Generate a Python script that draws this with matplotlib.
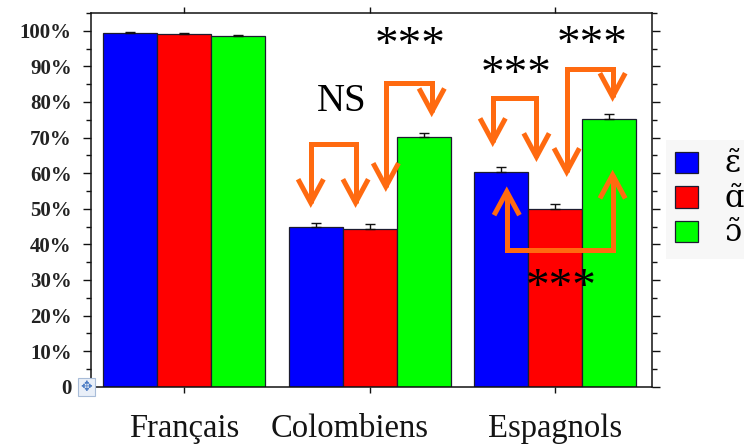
import matplotlib
matplotlib.use("Agg")
import matplotlib.pyplot as plt
import numpy as np
from matplotlib.patches import Patch, Rectangle
from matplotlib.ticker import FixedLocator, FuncFormatter
import matplotlib.transforms as mtransforms

plt.rcParams["mathtext.fontset"] = "dejavuserif"

# ---- data -------------------------------------------------------------
groups = ["Français", "Colombiens", "Espagnols"]
vowels = [r"$\tilde{\mathrm{ɛ}}$", r"$\tilde{\mathrm{ɑ}}$", r"$\tilde{\mathrm{ɔ}}$"]
vowel_colors = ["#0000ff", "#ff0000", "#00ff00"]

eps_vals = [0.993, 0.449, 0.604]     # nasal e
a_vals = [0.992, 0.443, 0.498]       # nasal a
o_vals = [0.985, 0.702, 0.751]       # nasal o
eps_err = [0.003, 0.012, 0.014]
a_err = [0.003, 0.013, 0.015]
o_err = [0.004, 0.010, 0.014]

y_ticks = [0.0, 0.1, 0.2, 0.3, 0.4, 0.5, 0.6, 0.7, 0.8, 0.9, 1.0]

# significance brackets: (group, bar_from, bar_to, offset_from, offset_to,
#                         tip_from, tip_to, bar_level, arrows_up, label,
#                         label_x_bar, label_x_off, label_y)
comparisons = [
    (1, 0, 1, -0.09, -0.26, 0.517, 0.517, 0.682, False, "NS", 0, 0.48, 0.80),
    (1, 1, 2, 0.30, 0.15, 0.562, 0.772, 0.852, False, "***", 1, 0.75, 0.955),
    (2, 0, 1, -0.16, -0.35, 0.688, 0.646, 0.810, False, "***", 0, 0.28, 0.875),
    (2, 1, 2, 0.21, 0.06, 0.604, 0.815, 0.894, False, "***", 1, 0.69, 0.958),
    (2, 0, 2, 0.10, 0.06, 0.548, 0.595, 0.384, True, "***", 1, 0.11, 0.275),
]

# ---- layout -----------------------------------------------------------
W, H = 744, 446
fig = plt.figure(figsize=(W / 100, H / 100), dpi=100)
fig.patch.set_facecolor("white")
ax = fig.add_axes([91 / W, (H - 386.7) / H, (652 - 91) / W, (386.7 - 13) / H])

group_step = 3.44
bar_w = 1.0
centers = np.arange(len(groups)) * group_step

series = [eps_vals, a_vals, o_vals]
errors = [eps_err, a_err, o_err]
for i, (vals, errs, col, lab) in enumerate(zip(series, errors, vowel_colors, vowels)):
    xs = centers + (i - 1) * bar_w
    ax.bar(xs, vals, width=bar_w, color=col, edgecolor="#1c1c30",
           linewidth=0.9, label=lab, zorder=2)
    ax.errorbar(xs, vals, yerr=[np.zeros(len(errs)), errs], fmt="none",
                ecolor="#111111", elinewidth=1.0, capsize=3.5, capthick=1.0,
                zorder=3)

ax.set_xlim(-1.72, 8.67)
ax.set_ylim(0, 1.05)

# ---- significance brackets -------------------------------------------
orange = "#ff6a10"
lw = 3.6
chev_dx = 0.235
chev_dy = 0.066


def chevron(x, y, up):
    s = 1 if up else -1
    ax.plot([x - chev_dx, x, x + chev_dx], [y - s * chev_dy, y, y - s * chev_dy],
            color=orange, lw=lw, solid_joinstyle="miter",
            solid_capstyle="butt", zorder=5)


for (g, b0, b1, o0, o1, t0, t1, level, up, label,
     lb, lo, ly) in comparisons:
    x0 = centers[g] + (b0 - 1) * bar_w + o0
    x1 = centers[g] + (b1 - 1) * bar_w + o1
    ax.plot([x0, x0, x1, x1], [t0, level, level, t1], color=orange, lw=lw,
            solid_joinstyle="miter", solid_capstyle="butt", zorder=5)
    chevron(x0, t0, up)
    chevron(x1, t1, up)
    tx = centers[g] + (lb - 1) * bar_w + lo
    size = 28 if label == "NS" else 34
    ax.text(tx, ly, label, ha="center", va="center", fontsize=size,
            family=["Liberation Serif", "DejaVu Serif"], zorder=6)

# ---- axes styling -----------------------------------------------------
for sp in ax.spines.values():
    sp.set_linewidth(1.1)
    sp.set_color("#111111")

ax.yaxis.set_major_locator(FixedLocator(y_ticks))
ax.yaxis.set_minor_locator(FixedLocator([v + 0.05 for v in y_ticks]))
ax.yaxis.set_major_formatter(
    FuncFormatter(lambda v, p: "0" if v == 0 else f"{int(round(v * 100))}%"))
ax.tick_params(axis="y", which="both", direction="out", left=True, right=True,
               labelleft=True, labelright=False, color="#111111", width=1.0)
ax.tick_params(axis="y", which="major", length=5.8, pad=8)
ax.tick_params(axis="y", which="minor", length=3.5)
for lab in ax.get_yticklabels():
    lab.set_family(["Liberation Serif", "DejaVu Serif"])
    lab.set_fontweight("bold")
    lab.set_fontsize(15)
    lab.set_color("#222222")

ax.set_xticks(centers)
ax.set_xticklabels(groups)
ax.tick_params(axis="x", direction="out", top=True, bottom=True, length=4,
               width=1.0, pad=15, color="#111111")
for k, lab in enumerate(ax.get_xticklabels()):
    lab.set_family(["Liberation Serif", "DejaVu Serif"])
    lab.set_fontsize(23.5)
    lab.set_color("#141414")
    if k == 1:
        lab.set_transform(lab.get_transform() +
                          mtransforms.ScaledTranslation(-0.2, 0, fig.dpi_scale_trans))

# table anchor box beside the zero label
fig.patches.append(Rectangle((78 / W, (H - 396) / H), 17 / W, 18 / H,
                             transform=fig.transFigure, facecolor="#e9eff8",
                             edgecolor="#a8bcd8", linewidth=0.8))
fig.text(86.5 / W, (H - 387) / H, "✥", ha="center", va="center",
         fontsize=10, color="#4c7cc4", family="DejaVu Sans")

# ---- legend -----------------------------------------------------------
handles = [Patch(facecolor=c, edgecolor="#1c1c30", linewidth=0.9) for c in vowel_colors]
leg = fig.legend(handles, vowels, loc="upper left",
                 bbox_to_anchor=(666 / W, (H - 140) / H),
                 frameon=True, fancybox=False,
                 prop={"family": ["DejaVu Serif"], "size": 22},
                 handlelength=0.75, handleheight=0.7, handletextpad=0.85,
                 labelspacing=0.12, borderpad=0.3, borderaxespad=0)
leg.get_frame().set_facecolor("#f5f5f5")
leg.get_frame().set_edgecolor("none")

fig.savefig("out.png", dpi=100, facecolor="white")
